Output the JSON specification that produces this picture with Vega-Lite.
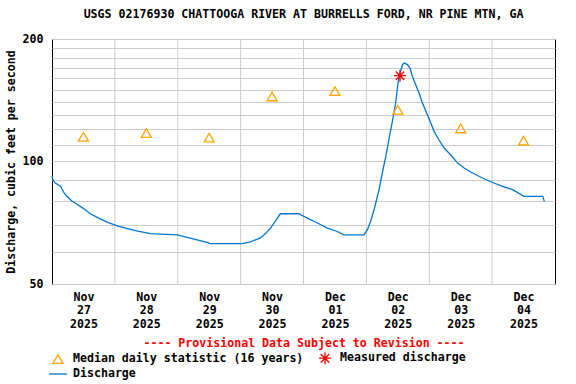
{
  "$schema": "https://vega.github.io/schema/vega-lite/v6.json",
  "width": 503,
  "height": 245,
  "autosize": {"type": "none"},
  "padding": {"left": 52, "top": 39, "right": 21, "bottom": 100},
  "title": {"text": "USGS 02176930 CHATTOOGA RIVER AT BURRELLS FORD, NR PINE MTN, GA", "font": "DejaVu Sans Mono", "fontSize": 11.6, "fontWeight": "bold", "anchor": "middle", "offset": 12, "color": "black"},
  "config": {
    "view": {"stroke": "black", "strokeWidth": 1},
    "font": "DejaVu Sans Mono"
  },
  "datasets": {
    "grid": [
      {"date": "2025-11-28T00:00"}, {"date": "2025-11-29T00:00"}, {"date": "2025-11-30T00:00"},
      {"date": "2025-12-01T00:00"}, {"date": "2025-12-02T00:00"}, {"date": "2025-12-03T00:00"},
      {"date": "2025-12-04T00:00"}
    ],
    "flow": [
      {"date": "2025-11-27T00:00", "value": 92, "series": "Discharge"},
      {"date": "2025-11-27T00:25", "value": 90, "series": "Discharge"},
      {"date": "2025-11-27T01:15", "value": 88.5, "series": "Discharge"},
      {"date": "2025-11-27T03:15", "value": 87, "series": "Discharge"},
      {"date": "2025-11-27T04:30", "value": 84, "series": "Discharge"},
      {"date": "2025-11-27T05:45", "value": 82, "series": "Discharge"},
      {"date": "2025-11-27T07:35", "value": 80, "series": "Discharge"},
      {"date": "2025-11-27T09:50", "value": 78.3, "series": "Discharge"},
      {"date": "2025-11-27T12:05", "value": 76.6, "series": "Discharge"},
      {"date": "2025-11-27T14:35", "value": 74.4, "series": "Discharge"},
      {"date": "2025-11-27T17:50", "value": 72.6, "series": "Discharge"},
      {"date": "2025-11-27T21:00", "value": 71, "series": "Discharge"},
      {"date": "2025-11-28T01:30", "value": 69.3, "series": "Discharge"},
      {"date": "2025-11-28T07:50", "value": 67.6, "series": "Discharge"},
      {"date": "2025-11-28T13:35", "value": 66.5, "series": "Discharge"},
      {"date": "2025-11-28T23:50", "value": 66, "series": "Discharge"},
      {"date": "2025-11-29T07:25", "value": 64.2, "series": "Discharge"},
      {"date": "2025-11-29T11:10", "value": 63.3, "series": "Discharge"},
      {"date": "2025-11-29T12:30", "value": 62.8, "series": "Discharge"},
      {"date": "2025-11-30T00:35", "value": 62.8, "series": "Discharge"},
      {"date": "2025-11-30T03:50", "value": 63.5, "series": "Discharge"},
      {"date": "2025-11-30T07:35", "value": 64.9, "series": "Discharge"},
      {"date": "2025-11-30T09:30", "value": 66.5, "series": "Discharge"},
      {"date": "2025-11-30T11:25", "value": 68.6, "series": "Discharge"},
      {"date": "2025-11-30T13:20", "value": 71.5, "series": "Discharge"},
      {"date": "2025-11-30T15:10", "value": 74.4, "series": "Discharge"},
      {"date": "2025-11-30T22:10", "value": 74.4, "series": "Discharge"},
      {"date": "2025-12-01T01:25", "value": 72.6, "series": "Discharge"},
      {"date": "2025-12-01T05:20", "value": 70.6, "series": "Discharge"},
      {"date": "2025-12-01T09:05", "value": 68.6, "series": "Discharge"},
      {"date": "2025-12-01T12:55", "value": 67.3, "series": "Discharge"},
      {"date": "2025-12-01T15:25", "value": 66, "series": "Discharge"},
      {"date": "2025-12-01T23:05", "value": 66, "series": "Discharge"},
      {"date": "2025-12-02T00:25", "value": 68, "series": "Discharge"},
      {"date": "2025-12-02T01:35", "value": 71.2, "series": "Discharge"},
      {"date": "2025-12-02T02:55", "value": 76, "series": "Discharge"},
      {"date": "2025-12-02T04:50", "value": 85.3, "series": "Discharge"},
      {"date": "2025-12-02T06:05", "value": 93.7, "series": "Discharge"},
      {"date": "2025-12-02T07:25", "value": 102.9, "series": "Discharge"},
      {"date": "2025-12-02T08:35", "value": 113.1, "series": "Discharge"},
      {"date": "2025-12-02T09:55", "value": 125.5, "series": "Discharge"},
      {"date": "2025-12-02T11:10", "value": 139.2, "series": "Discharge"},
      {"date": "2025-12-02T12:05", "value": 155.9, "series": "Discharge"},
      {"date": "2025-12-02T12:50", "value": 165, "series": "Discharge"},
      {"date": "2025-12-02T13:50", "value": 173, "series": "Discharge"},
      {"date": "2025-12-02T14:25", "value": 174.6, "series": "Discharge"},
      {"date": "2025-12-02T15:40", "value": 173, "series": "Discharge"},
      {"date": "2025-12-02T16:40", "value": 169.7, "series": "Discharge"},
      {"date": "2025-12-02T17:35", "value": 161.8, "series": "Discharge"},
      {"date": "2025-12-02T18:50", "value": 154.4, "series": "Discharge"},
      {"date": "2025-12-02T20:05", "value": 147.3, "series": "Discharge"},
      {"date": "2025-12-02T21:25", "value": 139.2, "series": "Discharge"},
      {"date": "2025-12-02T23:00", "value": 131.6, "series": "Discharge"},
      {"date": "2025-12-03T00:20", "value": 125.5, "series": "Discharge"},
      {"date": "2025-12-03T01:50", "value": 118.6, "series": "Discharge"},
      {"date": "2025-12-03T03:40", "value": 113.1, "series": "Discharge"},
      {"date": "2025-12-03T05:40", "value": 107.9, "series": "Discharge"},
      {"date": "2025-12-03T08:10", "value": 103.9, "series": "Discharge"},
      {"date": "2025-12-03T10:50", "value": 99.1, "series": "Discharge"},
      {"date": "2025-12-03T13:20", "value": 96.4, "series": "Discharge"},
      {"date": "2025-12-03T16:30", "value": 93.7, "series": "Discharge"},
      {"date": "2025-12-03T20:20", "value": 91.1, "series": "Discharge"},
      {"date": "2025-12-04T00:10", "value": 88.8, "series": "Discharge"},
      {"date": "2025-12-04T04:00", "value": 86.9, "series": "Discharge"},
      {"date": "2025-12-04T07:50", "value": 85.3, "series": "Discharge"},
      {"date": "2025-12-04T12:10", "value": 82.1, "series": "Discharge"},
      {"date": "2025-12-04T19:20", "value": 82.1, "series": "Discharge"},
      {"date": "2025-12-04T19:55", "value": 79.8, "series": "Discharge"}
    ],
    "points": [
      {"date": "2025-11-27T12:00", "value": 115, "series": "Median daily statistic (16 years)"},
      {"date": "2025-11-28T12:00", "value": 117.5, "series": "Median daily statistic (16 years)"},
      {"date": "2025-11-29T12:00", "value": 114.5, "series": "Median daily statistic (16 years)"},
      {"date": "2025-11-30T12:00", "value": 144.5, "series": "Median daily statistic (16 years)"},
      {"date": "2025-12-01T12:00", "value": 149, "series": "Median daily statistic (16 years)"},
      {"date": "2025-12-02T12:00", "value": 134, "series": "Median daily statistic (16 years)"},
      {"date": "2025-12-03T12:00", "value": 120.6, "series": "Median daily statistic (16 years)"},
      {"date": "2025-12-04T12:00", "value": 112.5, "series": "Median daily statistic (16 years)"},
      {"date": "2025-12-02T12:50", "value": 162.5, "series": "Measured discharge"}
    ]
  },
  "encoding": {
    "x": {
      "field": "date", "type": "temporal",
      "scale": {"domain": [{"year": 2025, "month": 11, "date": 27}, {"year": 2025, "month": 12, "date": 5}]},
      "axis": {
        "values": [
          {"year": 2025, "month": 11, "date": 27, "hours": 12},
          {"year": 2025, "month": 11, "date": 28, "hours": 12},
          {"year": 2025, "month": 11, "date": 29, "hours": 12},
          {"year": 2025, "month": 11, "date": 30, "hours": 12},
          {"year": 2025, "month": 12, "date": 1, "hours": 12},
          {"year": 2025, "month": 12, "date": 2, "hours": 12},
          {"year": 2025, "month": 12, "date": 3, "hours": 12},
          {"year": 2025, "month": 12, "date": 4, "hours": 12}
        ],
        "labelExpr": "[timeFormat(datum.value, '%b'), timeFormat(datum.value, '%d'), timeFormat(datum.value, '%Y')]",
        "grid": false, "ticks": false, "domain": false,
        "labelOverlap": false, "labelFlush": false,
        "labelAlign": "center", "labelBaseline": "top",
        "labelPadding": 7, "labelLineHeight": 13.5,
        "labelFont": "DejaVu Sans Mono", "labelFontSize": 11.6, "labelFontWeight": "bold", "labelColor": "black",
        "title": "---- Provisional Data Subject to Revision ----",
        "titleFont": "DejaVu Sans Mono", "titleFontSize": 11.6, "titleFontWeight": "bold", "titleColor": "red",
        "titlePadding": 8
      }
    }
  },
  "layer": [
    {
      "data": {"name": "grid"},
      "mark": {"type": "rule", "color": "#cccccc", "strokeWidth": 1},
      "encoding": {}
    },
    {
      "data": {"name": "flow"},
      "mark": {"type": "line", "strokeWidth": 1.3},
      "encoding": {
        "y": {
          "field": "value", "type": "quantitative",
          "scale": {"type": "log", "domain": [50, 200], "nice": false},
          "axis": {
            "values": [50, 60, 70, 80, 90, 100, 110, 120, 130, 140, 150, 160, 170, 180, 190, 200],
            "labelExpr": "datum.value == 50 || datum.value == 100 || datum.value == 200 ? format(datum.value, 'd') : ''",
            "labelOverlap": false, "ticks": false, "domain": false,
            "grid": true, "gridColor": "#cccccc", "gridWidth": 1,
            "labelFont": "DejaVu Sans Mono", "labelFontSize": 11.6, "labelFontWeight": "bold", "labelColor": "black",
            "labelPadding": 9,
            "title": "Discharge, cubic feet per second",
            "titleFont": "DejaVu Sans Mono", "titleFontSize": 11.6, "titleFontWeight": "bold", "titleColor": "black",
            "titlePadding": 6
          }
        },
        "color": {
          "field": "series", "type": "nominal",
          "scale": {"domain": ["Median daily statistic (16 years)", "Measured discharge", "Discharge"], "range": ["#FFA500", "#FF0000", "#0077CC"]},
          "legend": {
            "title": null, "orient": "none", "legendX": 0, "legendY": 313, "direction": "horizontal",
            "columns": 2, "columnPadding": 12, "rowPadding": 1,
            "symbolSize": 100, "symbolStrokeWidth": 1.3, "labelLimit": 400,
            "labelFont": "DejaVu Sans Mono", "labelFontSize": 11.6, "labelFontWeight": "bold", "labelColor": "black",
            "labelOffset": 9
          }
        }
      }
    },
    {
      "data": {"name": "points"},
      "mark": {"type": "point", "filled": false, "size": 100, "strokeWidth": 1.3, "opacity": 1},
      "encoding": {
        "y": {"field": "value", "type": "quantitative"},
        "color": {
          "field": "series", "type": "nominal",
          "scale": {"domain": ["Median daily statistic (16 years)", "Measured discharge", "Discharge"], "range": ["#FFA500", "#FF0000", "#0077CC"]},
          "legend": {
            "title": null, "orient": "none", "legendX": 0, "legendY": 313, "direction": "horizontal",
            "columns": 2, "columnPadding": 12, "rowPadding": 1,
            "symbolSize": 100, "symbolStrokeWidth": 1.3, "labelLimit": 400,
            "labelFont": "DejaVu Sans Mono", "labelFontSize": 11.6, "labelFontWeight": "bold", "labelColor": "black",
            "labelOffset": 9
          }
        },
        "shape": {
          "field": "series", "type": "nominal",
          "scale": {"domain": ["Median daily statistic (16 years)", "Measured discharge", "Discharge"], "range": ["triangle-up", "M-1.2,0L1.2,0M0,-1.2L0,1.2M-0.85,-0.85L0.85,0.85M-0.85,0.85L0.85,-0.85", "M-1.8,0L1.8,0"]},
          "legend": {
            "title": null, "orient": "none", "legendX": 0, "legendY": 313, "direction": "horizontal",
            "columns": 2, "columnPadding": 12, "rowPadding": 1,
            "symbolSize": 100, "symbolStrokeWidth": 1.3, "labelLimit": 400,
            "labelFont": "DejaVu Sans Mono", "labelFontSize": 11.6, "labelFontWeight": "bold", "labelColor": "black",
            "labelOffset": 9
          }
        }
      }
    }
  ]
}
